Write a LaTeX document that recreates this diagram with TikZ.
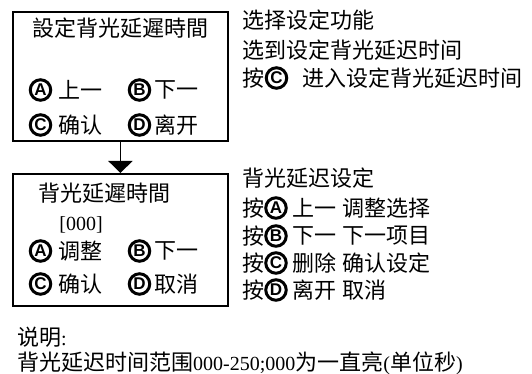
\documentclass[tikz,border=0pt]{standalone}
\usepackage{fontspec}
\setmainfont{Liberation Serif}
\setsansfont{Liberation Sans}
\newfontfamily\cjk{Noto Sans CJK SC}
\usetikzlibrary{positioning,arrows.meta}
\newcommand{\zh}[1]{{\cjk\fontsize{22}{24}\selectfont #1}}
\tikzset{
  panel/.style={draw,line width=1.8pt,minimum width=215pt,inner sep=0pt,anchor=north west},
  txt/.style={inner sep=0pt,font=\cjk\fontsize{22}{24}\selectfont},
  lat/.style={inner sep=0pt,font=\fontsize{20}{22}\selectfont},
  keyc/.style={circle,draw,line width=3pt,minimum size=20.5pt,inner sep=0pt,
    font=\sffamily\bfseries\fontsize{17}{17}\selectfont},
}

\begin{document}
\begin{tikzpicture}[x=1pt,y=1pt,yscale=-1,xscale=1]
    \useasboundingbox (0,0) rectangle (532,374);

    %Shape: panels
    \node [panel,minimum height=129pt] (menu) at (12,11) {};
    \node [panel,minimum height=132pt] (set) at (12,173) {};
    \draw [line width=1.8pt,-{Triangle[width=24pt,length=12pt]}] (menu.south) -- (set.north);

    % Text Node: first panel
    \node [txt] (menutitle) at (120,28) {設定背光延遲時間};
    \node [keyc] (ma) at (40.5,90) {A};
    \node [txt,anchor=west,right=6pt of ma] (mat) {上一};
    \node [keyc] (mb) at (139.5,90) {B};
    \node [txt,anchor=west,right=3pt of mb] (mbt) {下一};
    \node [keyc] (mc) at (40.5,125) {C};
    \node [txt,anchor=west,right=6pt of mc] (mct) {确认};
    \node [keyc] (md) at (139.5,125) {D};
    \node [txt,anchor=west,right=3pt of md] (mdt) {离开};

    % Text Node: second panel
    \node [txt] (settitle) at (104,193) {背光延遲時間};
    \node [lat] (setval) at (81,225) {[000]};
    \node [keyc] (sa) at (40.5,251) {A};
    \node [txt,anchor=west,right=6pt of sa] (sat) {调整};
    \node [keyc] (sb) at (139.5,251) {B};
    \node [txt,anchor=west,right=3pt of sb] (sbt) {下一};
    \node [keyc] (sc) at (40.5,284) {C};
    \node [txt,anchor=west,right=6pt of sc] (sct) {确认};
    \node [keyc] (sd) at (139.5,284) {D};
    \node [txt,anchor=west,right=3pt of sd] (sdt) {取消};

    % Text Node: notes for first panel
    \node [txt,anchor=west] (n1) at (242,20) {选择设定功能};
    \node [txt,anchor=west] (n2) at (242,50) {选到设定背光延迟时间};
    \node [txt,anchor=west] (n3) at (242,78) {按};
    \node [keyc] (n3k) at (276.5,78) {C};
    \node [txt,anchor=west,right=14pt of n3k] (n3t) {进入设定背光延迟时间};

    % Text Node: notes for second panel
    \node [txt,anchor=west] (h0) at (242,178) {背光延迟设定};
    \foreach \i/\y/\k/\t in {1/208/A/{上一\hspace{6pt}调整选择},
                             2/236/B/{下一\hspace{6pt}下一项目},
                             3/263/C/{删除\hspace{6pt}确认设定},
                             4/290/D/{离开\hspace{6pt}取消}}{
      \node [txt,anchor=west] (h\i) at (242,\y) {按};
      \node [keyc] (h\i k) at (276,\y) {\k};
      \node [txt,anchor=west,right=5pt of h\i k] (h\i t) {\t};
    }

    % Text Node: remark
    \node [lat,anchor=west] (rem) at (17,337) {\zh{说明}:};
    \node [lat,anchor=west] (range) at (17,363) {\zh{背光延迟时间范围}000-250;000\zh{为一直亮}(\zh{单位秒})};
\end{tikzpicture}
\end{document}
